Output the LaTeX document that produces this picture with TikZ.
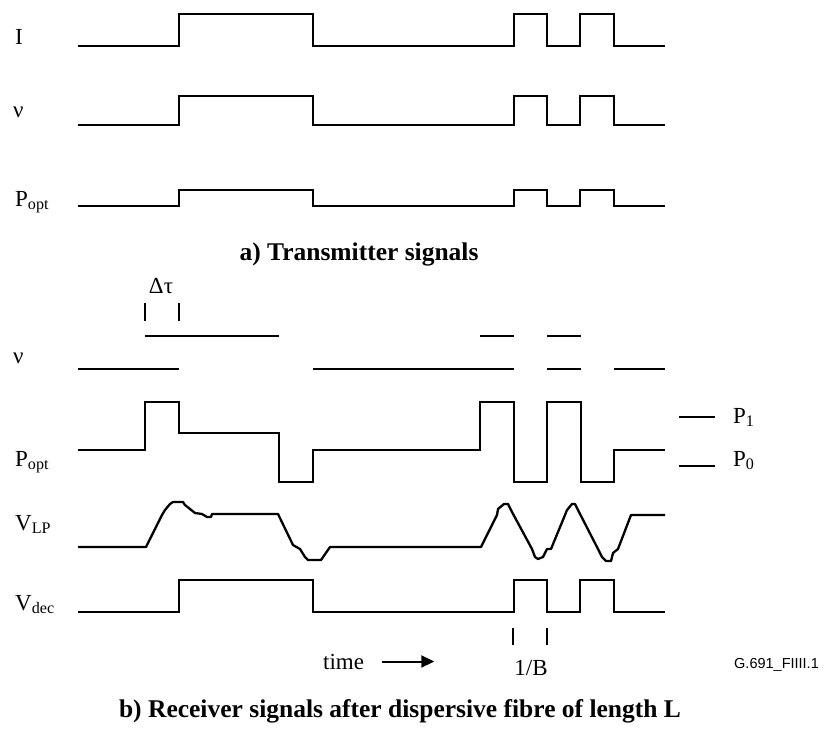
\documentclass[tikz,border=0pt]{standalone}
\usepackage{fontspec}
\setmainfont{Liberation Serif}
\newfontfamily\tagfont{Liberation Sans}
\usetikzlibrary{arrows.meta}
\tikzset{
  >={Triangle[length=13pt,width=12pt]},
  every node/.style={inner sep=0pt,font=\fontsize{23}{27}\selectfont},
  sig/.style={line width=2.3pt},
  lab/.style={anchor=base west},
  captext/.style={anchor=base,font=\fontsize{25.5}{30}\selectfont\bfseries},
  tag/.style={anchor=base west,font=\tagfont\fontsize{14.5}{17}\selectfont},
  flow/.style={->,line width=2pt},
}

\begin{document}
\begin{tikzpicture}[x=1pt,y=-1pt]
  \useasboundingbox (0,0) rectangle (828,737);

  % a) transmitter rows (and V_dec) share one bit pattern
  \foreach \lo/\hi in {46/14,125/96,206/190,612/580}{
    \draw[sig] (78,\lo) -| (179,\hi) -| (313,\lo) -| (514,\hi) -| (547,\lo)
               -| (580,\hi) -| (614,\lo) -- (665,\lo);
  }
  \node[lab] (txI)  at (15,44)  {I};
  \node[lab] (txnu) at (13,117) {ν};
  \node[lab] (txP)  at (15,206) {P\textsubscript{opt}};
  \node[captext] (capa) at (359,260) {a) Transmitter signals};

  % b) receiver: chirped frequency
  \foreach \a/\b in {78/179,313/514,547/581,614/665}
    \draw[sig] (\a,369) -- (\b,369);
  \foreach \a/\b in {145/279,480/514,547/581}
    \draw[sig] (\a,336) -- (\b,336);
  \draw[sig] (145,303) -- (145,321);
  \draw[sig] (179,303) -- (179,321);
  \node[anchor=base] (dtau) at (161,293) {Δτ};
  \node[lab] (rxnu) at (13,363) {ν};

  % optical power after the fibre
  \draw[sig] (78,450) -| (145,402) -| (179,433) -| (279,482) -| (313,450)
             -| (480,402) -| (514,482) -| (547,402) -| (581,482) -| (614,450) -- (665,450);
  \draw[sig] (679,417) -- (715,417);
  \draw[sig] (679,466) -- (715,466);
  \node[lab] (p1) at (733,423) {P\textsubscript{1}};
  \node[lab] (p0) at (733,466) {P\textsubscript{0}};
  \node[lab] (rxP) at (15,466) {P\textsubscript{opt}};

  % low-pass filtered voltage
  \draw[sig,line join=round] (78,547) -- (146,547) -- (162,515) -- (165,510) -- (170,504)
    -- (173,502) -- (183,502) -- (185,505) -- (190,509) -- (195,513) -- (202,514)
    -- (207,517) -- (211,517) -- (212,514) -- (278,514) -- (293,545) -- (300,549)
    -- (305,557) -- (308,560) -- (321,560) -- (330,547) -- (481,547) -- (497,515)
    -- (498,509) -- (504,504) -- (508,504) -- (512,512) -- (532,549) -- (535,557)
    -- (538,559) -- (543,557) -- (547,549) -- (551,549) -- (565,515) -- (567,510)
    -- (572,504) -- (575,504) -- (579,512) -- (598,549) -- (602,557) -- (606,561)
    -- (611,561) -- (613,553) -- (618,549) -- (631,515) -- (665,515);
  \node[lab] (vlp)  at (15,530) {V\textsubscript{LP}};
  \node[lab] (vdec) at (15,610) {V\textsubscript{dec}};

  % bit period and time axis
  \draw[sig] (513,628) -- (513,645);
  \draw[sig] (547,628) -- (547,645);
  \node[anchor=base] (bitT) at (531,675) {1/B};
  \node[lab] (time) at (323,669) {time};
  \draw[flow] ([xshift=18pt]time.east) -- ([xshift=70pt]time.east);
  \node[tag] (figid) at (734,668) {G.691\_FIIII.1};
  \node[captext] (capb) at (400,717) {b) Receiver signals after dispersive fibre of length L};
\end{tikzpicture}
\end{document}
